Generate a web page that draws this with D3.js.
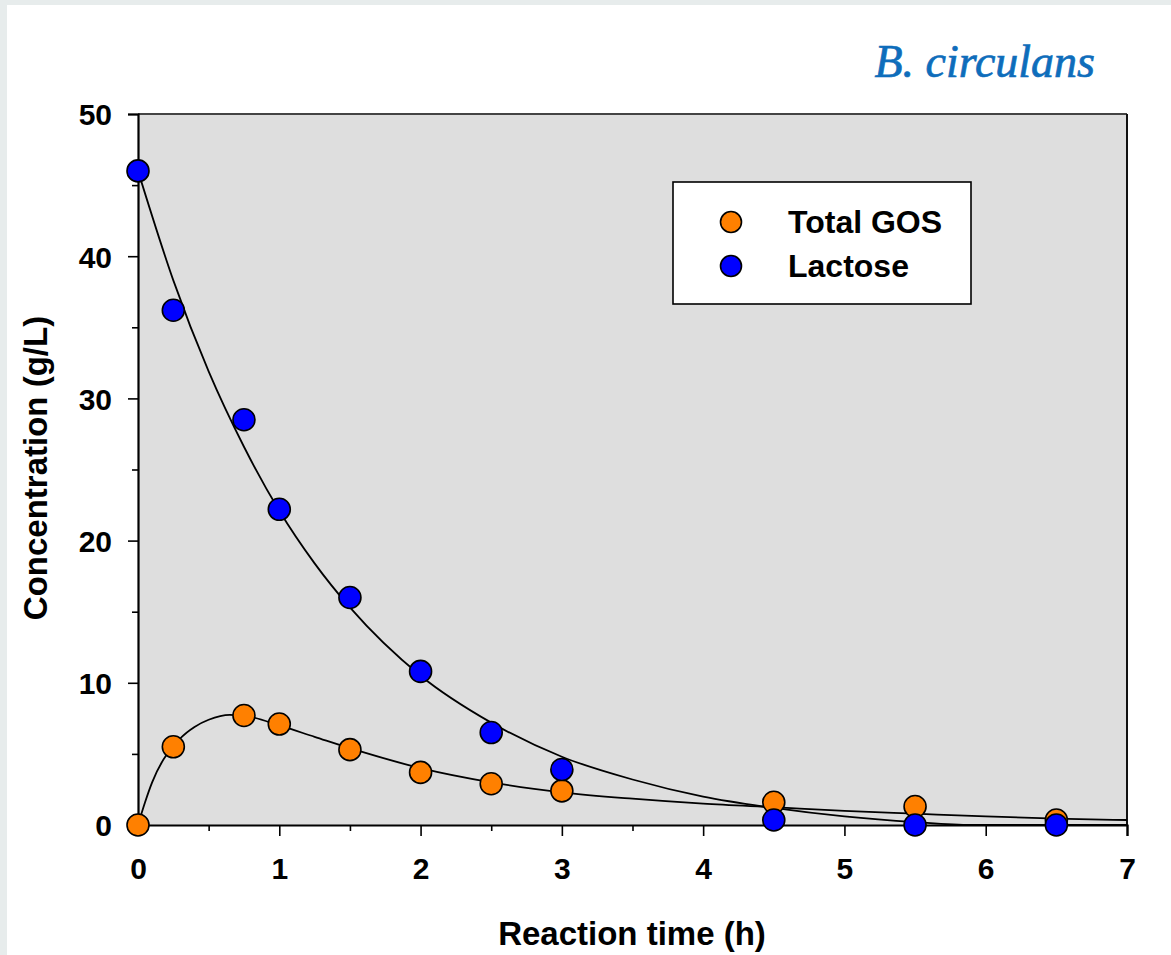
<!DOCTYPE html>
<html>
<head>
<meta charset="utf-8">
<script src="https://cdn.jsdelivr.net/npm/d3@7"></script>
<style>
  html, body { margin: 0; padding: 0; background: #e7ecec; }
  svg { display: block; }
  text { font-family: "Liberation Sans", Arial, sans-serif; font-weight: bold; fill: #000; }
</style>
</head>
<body>
<div id="chart"></div>
<script>
// measured points
var times = [0, 0.25, 0.75, 1, 1.5, 2, 2.5, 3, 4.5, 5.5, 6.5]
var gos     = [0, 5.5, 7.7, 7.1, 5.3, 3.7, 2.9, 2.4, 1.6, 1.3, 0.35]
var lactose = [46.0, 36.2, 28.5, 22.2, 16.0, 10.8, 6.5, 3.9, 0.35, 0.0, 0.0]

// fitted curves
var gosFitT = [0, 0.05, 0.1, 0.2, 0.25, 0.3, 0.4, 0.5, 0.65, 0.8, 1, 1.25, 1.5, 2, 2.5, 3, 3.5, 4, 4.5, 5, 5.5, 6, 6.5, 7]
var gosFitY = [0, 1.6, 3.0, 4.9, 5.5, 6.1, 6.9, 7.4, 7.75, 7.6, 7.0, 6.2, 5.4, 4.0, 3.0, 2.3, 1.85, 1.5, 1.25, 1.0, 0.8, 0.6, 0.45, 0.35]
var lacFitT = [0, 0.25, 0.5, 0.75, 1, 1.25, 1.5, 2, 2.5, 3, 3.5, 4, 4.5, 5, 5.5, 5.9, 6.5, 7]
var lacFitY = [46.0, 38.3, 31.9, 26.6, 22.1, 18.4, 15.3, 10.5, 7.2, 4.8, 3.2, 2.0, 1.2, 0.6, 0.2, 0, 0, 0]

var xTicks = [0, 1, 2, 3, 4, 5, 6, 7]
var xMinor = [0.5, 1.5, 2.5, 3.5, 4.5, 5.5, 6.5]
var yTicks = [0, 10, 20, 30, 40, 50]
var yMinor = [5, 15, 25, 35, 45]

var W = 1171, H = 955
var svg = d3.select('#chart').append('svg')
	.attr('width', W).attr('height', H)

svg.append('rect').attr('x', 7).attr('y', 5).attr('width', W - 7).attr('height', H - 5).attr('fill', '#fff')

var x = d3.scaleLinear().domain([0, 7]).range([138, 1127])
var y = d3.scaleLinear().domain([0, 50]).range([825, 114])

// plot background
svg.append('rect')
	.attr('x', x(0)).attr('y', y(50))
	.attr('width', x(7) - x(0)).attr('height', y(0) - y(50))
	.attr('fill', '#dedede')

svg.append('clipPath').attr('id', 'clip').append('rect')
	.attr('x', x(0)).attr('y', y(50) - 2)
	.attr('width', x(7) - x(0)).attr('height', y(0) - y(50) + 2)

// frame top + right
svg.append('line').attr('x1', x(0)).attr('x2', x(7)).attr('y1', y(50)).attr('y2', y(50))
	.attr('stroke', '#444').attr('stroke-width', 2)
svg.append('line').attr('x1', x(7)).attr('x2', x(7)).attr('y1', y(50)).attr('y2', y(0))
	.attr('stroke', '#111').attr('stroke-width', 2)

// x axis
var xAxis = svg.append('g')
	.attr('transform', 'translate(0,' + y(0) + ')')
	.call(d3.axisBottom(x).tickValues(xTicks).tickSize(11).tickPadding(22).tickFormat(d3.format('d')))
svg.append('g')
	.attr('transform', 'translate(0,' + y(0) + ')')
	.call(d3.axisBottom(x).tickValues(xMinor).tickSize(6).tickFormat(''))
	.select('.domain').remove()

// y axis
var yAxis = svg.append('g')
	.attr('transform', 'translate(' + x(0) + ',0)')
	.call(d3.axisLeft(y).tickValues(yTicks).tickSize(10).tickPadding(16).tickFormat(d3.format('d')))
svg.append('g')
	.attr('transform', 'translate(' + x(0) + ',0)')
	.call(d3.axisLeft(y).tickValues(yMinor).tickSize(6).tickFormat(''))
	.select('.domain').remove()

svg.selectAll('.domain').attr('stroke', '#000').attr('stroke-width', 2.2)
svg.selectAll('.tick line').attr('stroke', '#000').attr('stroke-width', 1.6)
svg.selectAll('.tick text')
	.style('font-family', '"Liberation Sans", Arial, sans-serif')
	.style('font-weight', 'bold').style('font-size', '30px').style('fill', '#000')
xAxis.selectAll('.tick text').attr('dy', '0.71em')
yAxis.selectAll('.tick text').attr('dy', '0.36em')

// axis titles
svg.append('text').attr('x', 632).attr('y', 945)
	.attr('text-anchor', 'middle').style('font-size', '33px')
	.text('Reaction time (h)')
svg.append('text')
	.attr('transform', 'translate(47,468) rotate(-90)')
	.attr('text-anchor', 'middle').style('font-size', '33px')
	.text('Concentration (g/L)')

// title
svg.append('text').attr('x', 1095).attr('y', 77)
	.attr('text-anchor', 'end')
	.style('font-family', '"Liberation Serif", "Times New Roman", serif')
	.style('font-style', 'italic').style('font-weight', 'normal').style('font-size', '46px')
	.style('fill', '#0e6dbb').style('stroke', '#0e6dbb').style('stroke-width', '0.7px')
	.text('B. circulans')

// fitted curves
var line = d3.line()
	.x(function(d) { return x(d[0]) })
	.y(function(d) { return y(d[1]) })
	.curve(d3.curveMonotoneX)

var curves = svg.append('g').attr('clip-path', 'url(#clip)')
curves.append('path')
	.datum(d3.zip(lacFitT, lacFitY))
	.attr('d', line).attr('fill', 'none').attr('stroke', '#000').attr('stroke-width', 1.8)
curves.append('path')
	.datum(d3.zip(gosFitT, gosFitY))
	.attr('d', line).attr('fill', 'none').attr('stroke', '#000').attr('stroke-width', 1.8)

// points
svg.append('g').selectAll('circle')
	.data(d3.zip(times, gos))
	.enter().append('circle')
	.attr('cx', function(d) { return x(d[0]) })
	.attr('cy', function(d) { return y(d[1]) })
	.attr('r', 11)
	.attr('fill', '#ff8000').attr('stroke', '#000').attr('stroke-width', 1.6)

svg.append('g').selectAll('circle')
	.data(d3.zip(times, lactose))
	.enter().append('circle')
	.attr('cx', function(d) { return x(d[0]) })
	.attr('cy', function(d) { return y(d[1]) })
	.attr('r', 11)
	.attr('fill', '#0000ff').attr('stroke', '#000').attr('stroke-width', 1.6)

// legend
var legend = svg.append('g')
legend.append('rect').attr('x', 673).attr('y', 182).attr('width', 298).attr('height', 122)
	.attr('fill', '#fff').attr('stroke', '#000').attr('stroke-width', 1.6)
var items = [{name: 'Total GOS', color: '#ff8000'}, {name: 'Lactose', color: '#0000ff'}]
items.forEach(function(d, i) {
	legend.append('circle').attr('cx', 731).attr('cy', 222 + i * 44).attr('r', 10.5)
		.attr('fill', d.color).attr('stroke', '#000').attr('stroke-width', 1.6)
	legend.append('text').attr('x', 788).attr('y', 233 + i * 44)
		.style('font-size', '32px').text(d.name)
})
</script>
</body>
</html>
